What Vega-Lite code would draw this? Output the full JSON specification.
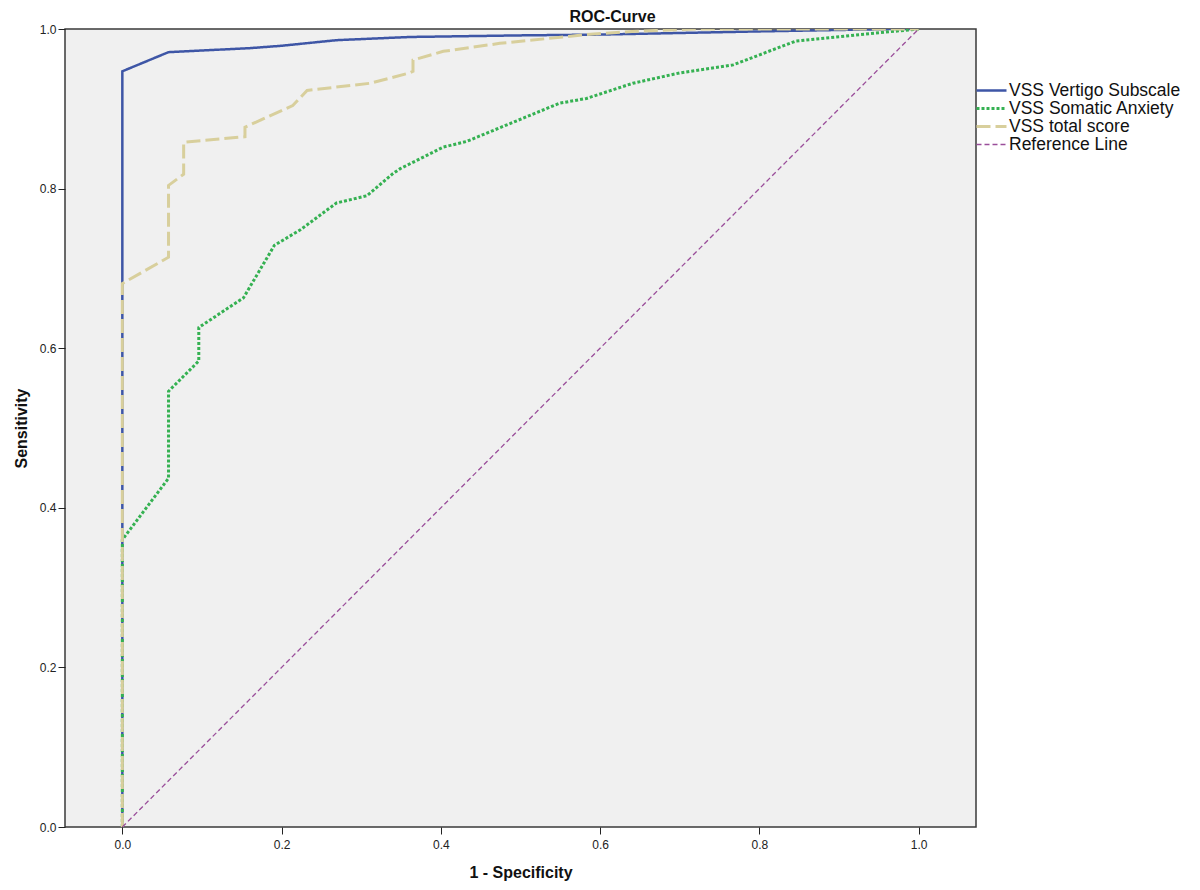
{
  "$schema": "https://vega.github.io/schema/vega-lite/v6.json",
  "width": 911,
  "height": 798,
  "autosize": "none",
  "padding": {"left": 65, "top": 29, "right": 224, "bottom": 63},
  "background": "white",
  "config": {
    "font": "Liberation Sans",
    "view": {"fill": "#f0f0f0", "stroke": "#3a3a3a", "strokeWidth": 1.5},
    "axis": {"grid": false, "domain": false, "tickColor": "#222", "tickSize": 7, "labelFontSize": 12, "labelColor": "#222", "labelFont": "Liberation Sans", "titleFont": "Liberation Sans", "titleFontWeight": "bold", "titleFontSize": 16, "titleColor": "#111"}
  },
  "title": {"text": "ROC-Curve", "fontSize": 16, "fontWeight": "bold", "color": "#111", "anchor": "middle", "dx": 92, "offset": -2, "font": "Liberation Sans"},
  "data": {"values": [
    {"series": "VSS Vertigo Subscale", "o": 1, "x": 0, "y": 0},
    {"series": "VSS Vertigo Subscale", "o": 2, "x": 0, "y": 0.947},
    {"series": "VSS Vertigo Subscale", "o": 3, "x": 0.058, "y": 0.971},
    {"series": "VSS Vertigo Subscale", "o": 4, "x": 0.16, "y": 0.976},
    {"series": "VSS Vertigo Subscale", "o": 5, "x": 0.2, "y": 0.979},
    {"series": "VSS Vertigo Subscale", "o": 6, "x": 0.269, "y": 0.986},
    {"series": "VSS Vertigo Subscale", "o": 7, "x": 0.361, "y": 0.99},
    {"series": "VSS Vertigo Subscale", "o": 8, "x": 0.5, "y": 0.992},
    {"series": "VSS Vertigo Subscale", "o": 9, "x": 0.6, "y": 0.993},
    {"series": "VSS Vertigo Subscale", "o": 10, "x": 0.8, "y": 0.997},
    {"series": "VSS Vertigo Subscale", "o": 11, "x": 0.97, "y": 1},
    {"series": "VSS Vertigo Subscale", "o": 12, "x": 1, "y": 1},
    {"series": "VSS Somatic Anxiety", "o": 1, "x": 0, "y": 0},
    {"series": "VSS Somatic Anxiety", "o": 2, "x": 0, "y": 0.36},
    {"series": "VSS Somatic Anxiety", "o": 3, "x": 0.058, "y": 0.437},
    {"series": "VSS Somatic Anxiety", "o": 4, "x": 0.058, "y": 0.546},
    {"series": "VSS Somatic Anxiety", "o": 5, "x": 0.096, "y": 0.584},
    {"series": "VSS Somatic Anxiety", "o": 6, "x": 0.096, "y": 0.626},
    {"series": "VSS Somatic Anxiety", "o": 7, "x": 0.152, "y": 0.663},
    {"series": "VSS Somatic Anxiety", "o": 8, "x": 0.191, "y": 0.729},
    {"series": "VSS Somatic Anxiety", "o": 9, "x": 0.223, "y": 0.748},
    {"series": "VSS Somatic Anxiety", "o": 10, "x": 0.269, "y": 0.782},
    {"series": "VSS Somatic Anxiety", "o": 11, "x": 0.307, "y": 0.791},
    {"series": "VSS Somatic Anxiety", "o": 12, "x": 0.34, "y": 0.819},
    {"series": "VSS Somatic Anxiety", "o": 13, "x": 0.349, "y": 0.825},
    {"series": "VSS Somatic Anxiety", "o": 14, "x": 0.403, "y": 0.852},
    {"series": "VSS Somatic Anxiety", "o": 15, "x": 0.432, "y": 0.859},
    {"series": "VSS Somatic Anxiety", "o": 16, "x": 0.549, "y": 0.907},
    {"series": "VSS Somatic Anxiety", "o": 17, "x": 0.583, "y": 0.913},
    {"series": "VSS Somatic Anxiety", "o": 18, "x": 0.641, "y": 0.932},
    {"series": "VSS Somatic Anxiety", "o": 19, "x": 0.7, "y": 0.945},
    {"series": "VSS Somatic Anxiety", "o": 20, "x": 0.767, "y": 0.955},
    {"series": "VSS Somatic Anxiety", "o": 21, "x": 0.846, "y": 0.985},
    {"series": "VSS Somatic Anxiety", "o": 22, "x": 0.926, "y": 0.993},
    {"series": "VSS Somatic Anxiety", "o": 23, "x": 1, "y": 1},
    {"series": "VSS total score", "o": 1, "x": 0, "y": 0},
    {"series": "VSS total score", "o": 2, "x": 0, "y": 0.681},
    {"series": "VSS total score", "o": 3, "x": 0.058, "y": 0.714},
    {"series": "VSS total score", "o": 4, "x": 0.058, "y": 0.804},
    {"series": "VSS total score", "o": 5, "x": 0.077, "y": 0.818},
    {"series": "VSS total score", "o": 6, "x": 0.077, "y": 0.858},
    {"series": "VSS total score", "o": 7, "x": 0.154, "y": 0.865},
    {"series": "VSS total score", "o": 8, "x": 0.154, "y": 0.877},
    {"series": "VSS total score", "o": 9, "x": 0.214, "y": 0.904},
    {"series": "VSS total score", "o": 10, "x": 0.232, "y": 0.923},
    {"series": "VSS total score", "o": 11, "x": 0.311, "y": 0.932},
    {"series": "VSS total score", "o": 12, "x": 0.361, "y": 0.945},
    {"series": "VSS total score", "o": 13, "x": 0.365, "y": 0.947},
    {"series": "VSS total score", "o": 14, "x": 0.365, "y": 0.961},
    {"series": "VSS total score", "o": 15, "x": 0.403, "y": 0.972},
    {"series": "VSS total score", "o": 16, "x": 0.474, "y": 0.982},
    {"series": "VSS total score", "o": 17, "x": 0.583, "y": 0.993},
    {"series": "VSS total score", "o": 18, "x": 0.64, "y": 0.997},
    {"series": "VSS total score", "o": 19, "x": 0.72, "y": 1},
    {"series": "VSS total score", "o": 20, "x": 1, "y": 1},
    {"series": "Reference Line", "o": 1, "x": 0, "y": 0},
    {"series": "Reference Line", "o": 2, "x": 1, "y": 1}
  ]},
  "mark": {"type": "line", "clip": true},
  "encoding": {
    "x": {"field": "x", "type": "quantitative", "scale": {"domain": [-0.072, 1.072], "nice": false, "zero": false}, "axis": {"values": [0, 0.2, 0.4, 0.6, 0.8, 1.0], "format": ".1f", "title": "1 - Specificity", "labelPadding": 5, "titlePadding": 14}},
    "y": {"field": "y", "type": "quantitative", "scale": {"domain": [0, 1], "nice": false}, "axis": {"values": [0, 0.2, 0.4, 0.6, 0.8, 1.0], "format": ".1f", "title": "Sensitivity", "labelPadding": 2, "titlePadding": 10}},
    "order": {"field": "o", "type": "quantitative"},
    "color": {"field": "series", "type": "nominal", "scale": {"domain": ["VSS Vertigo Subscale", "VSS Somatic Anxiety", "VSS total score", "Reference Line"], "range": ["#3E56A6", "#35B152", "#D8CF9C", "#9A4E9A"]},
      "legend": {"title": null, "orient": "none", "legendX": 910, "legendY": 53, "labelFontSize": 17.5, "labelFont": "Liberation Sans", "labelColor": "#111", "labelLimit": 400, "symbolType": "stroke", "symbolSize": 900, "rowPadding": 0, "clipHeight": 17, "labelOffset": 1}},
    "strokeDash": {"field": "series", "type": "nominal", "scale": {"domain": ["VSS Vertigo Subscale", "VSS Somatic Anxiety", "VSS total score", "Reference Line"], "range": [[1, 0], [3, 2], [14, 5], [5, 3]]}},
    "strokeWidth": {"field": "series", "type": "nominal", "scale": {"type": "ordinal", "domain": ["VSS Vertigo Subscale", "VSS Somatic Anxiety", "VSS total score", "Reference Line"], "range": [2.5, 3, 3, 1.3]}}
  }
}
